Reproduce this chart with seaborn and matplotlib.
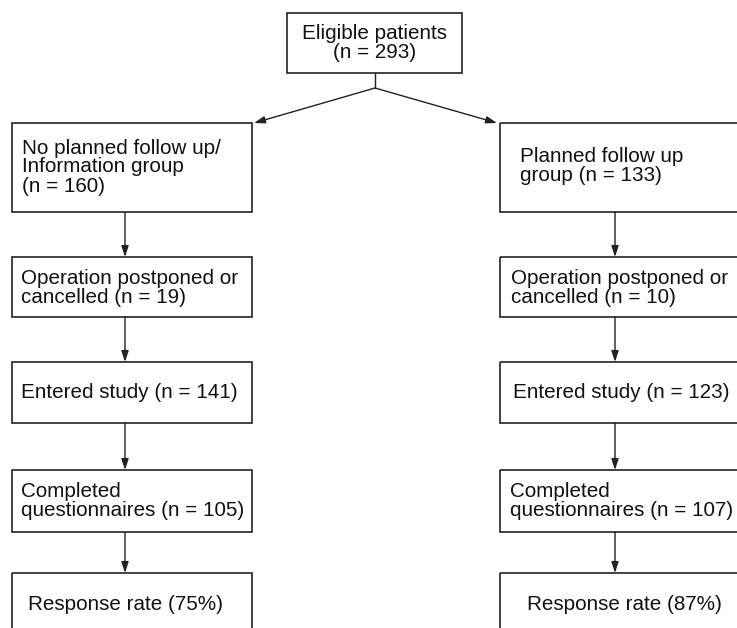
import matplotlib
matplotlib.use("Agg")
import matplotlib.pyplot as plt
from matplotlib.patches import Rectangle
import seaborn as sns

# flowchart contents
top_label = "Eligible patients\n(n = 293)"
left_labels = [
    "No planned follow up/\nInformation group\n(n = 160)",
    "Operation postponed or\ncancelled (n = 19)",
    "Entered study (n = 141)",
    "Completed\nquestionnaires (n = 105)",
    "Response rate (75%)",
]
right_labels = [
    "Planned follow up\ngroup (n = 133)",
    "Operation postponed or\ncancelled (n = 10)",
    "Entered study (n = 123)",
    "Completed\nquestionnaires (n = 107)",
    "Response rate (87%)",
]

# layout (pixel coordinates, y downwards)
row_top = [123, 257, 362, 470, 573]
row_bot = [212, 317, 423, 532, 660]
text_y = [167, 288, 392, 501, 605]
left_x0, left_x1 = 12, 252
right_x0, right_x1 = 500, 760
left_arrow_x, right_arrow_x = 125, 615
left_text_x = [22, 21, 21, 21, 28]
right_text_x = [520, 511, 513, 510, 527]

sns.set_theme(style="white")
plt.rcParams["font.family"] = ["Liberation Sans", "DejaVu Sans"]

fig = plt.figure(figsize=(7.37, 6.28), dpi=100)
ax = fig.add_axes([0, 0, 1, 1])
ax.set_xlim(0, 737)
ax.set_ylim(628, 0)
ax.axis("off")

ec = "#222222"
lw = 1.2
fs = 14.9


def box(x0, y0, x1, y1):
    ax.add_patch(Rectangle((x0, y0), x1 - x0, y1 - y0, fill=False,
                           edgecolor=ec, linewidth=lw, clip_on=True))


def arrow(x0, y0, x1, y1):
    ax.annotate("", xy=(x1, y1), xytext=(x0, y0),
                arrowprops=dict(arrowstyle="-|>,head_length=0.55,head_width=0.18",
                                color=ec, lw=1.0, shrinkA=0, shrinkB=0))


# top box
box(287, 13, 462, 73)
ax.text(375, 43, top_label, ha="center", va="center", fontsize=fs,
        color="#111111", linespacing=0.95)
ax.plot([375, 375], [73, 88], color=ec, lw=1.0)
arrow(375, 88, 254, 123)
arrow(375, 88, 497, 123)

for i in range(len(left_labels)):
    box(left_x0, row_top[i], left_x1, row_bot[i])
    box(right_x0, row_top[i], right_x1, row_bot[i])
    ax.text(left_text_x[i], text_y[i], left_labels[i], ha="left", va="center",
            fontsize=fs, color="#111111", linespacing=1.0)
    ax.text(right_text_x[i], text_y[i] - (1 if i == 0 else 0), right_labels[i],
            ha="left", va="center", fontsize=fs, color="#111111", linespacing=1.0)
    if i < len(left_labels) - 1:
        arrow(left_arrow_x, row_bot[i], left_arrow_x, row_top[i + 1])
        arrow(right_arrow_x, row_bot[i], right_arrow_x, row_top[i + 1])

fig.savefig("out.png", dpi=100, facecolor="white")
